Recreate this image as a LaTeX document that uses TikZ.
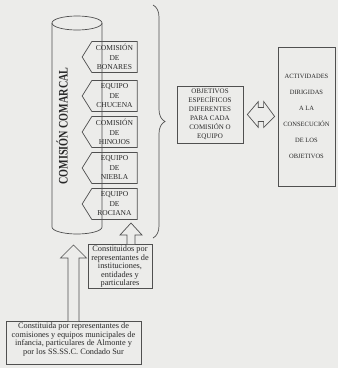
\documentclass[tikz,border=0pt]{standalone}
\usepackage{fontspec}
\setmainfont{Liberation Serif}
\usepackage{graphicx}
\usetikzlibrary{shapes.symbols,decorations.pathreplacing,calc}
\definecolor{paper}{RGB}{236,236,234}
\definecolor{ink}{RGB}{80,80,80}
\definecolor{txt}{RGB}{40,40,40}

\begin{document}
\begin{tikzpicture}[x=1pt, y=1pt, line width=0.7pt,
    every node/.style={text=txt, align=center},
    flag/.style={signal, signal to=west, draw=ink, minimum width=55pt, minimum height=31pt,
        inner sep=1pt, signal pointer angle=116, font=\fontsize{7.5}{9.5}\selectfont},
    box/.style={draw=ink, inner sep=1pt},
    hollow/.style={draw=ink, fill=paper}]
\fill[paper] (0,0) rectangle (338,-368);
\useasboundingbox (0,0) rectangle (338,-368);

% cylinder
\draw[ink] (77,-23) ellipse [x radius=25pt, y radius=7pt];
\draw[ink] (52,-23) -- (52,-227) arc[start angle=180, end angle=360, x radius=25pt, y radius=7pt] -- (102,-23);
\node[rotate=90] (comarcal) at (62,-126) {\fontsize{13}{13}\selectfont\bfseries\scalebox{0.78}[1]{COMISIÓN COMARCAL}};

\node[flag] (bonares) at (114.5,-57) {COMISIÓN\\DE\\BONARES};
\node[flag] (chucena) at (114.5,-96) {EQUIPO\\DE\\CHUCENA};
\node[flag] (hinojos) at (114.5,-132) {COMISIÓN\\DE\\HINOJOS};
\node[flag] (niebla) at (114.5,-168) {EQUIPO\\DE\\NIEBLA};
\node[flag] (rociana) at (114.5,-204) {EQUIPO\\DE\\ROCIANA};

\draw[ink, decorate, decoration={brace, amplitude=12pt}] (153,-5) -- (153,-238);

\node[box, minimum width=66pt, minimum height=57pt, font=\fontsize{7}{9}\selectfont] (objetivos) at (210,-114.5)
    {OBJETIVOS\\ESPECÍFICOS\\DIFERENTES\\PARA CADA\\COMISIÓN O\\EQUIPO};
\node[box, minimum width=57pt, minimum height=139pt, font=\fontsize{6.5}{16}\selectfont] (actividades) at (306.5,-116.5)
    {ACTIVIDADES\\DIRIGIDAS\\A LA\\CONSECUCIÓN\\DE LOS\\OBJETIVOS};

\draw[hollow] let \p1=($(objetivos.east)+(4,0)$), \p2=($(actividades.west)+(-3,0)$) in
    (\p1) -- (\x1+11pt,\y1+13pt) -- (\x1+11pt,\y1+7pt) -- (\x2-11pt,\y1+7pt) -- (\x2-11pt,\y1+13pt)
    -- (\p2) -- (\x2-11pt,\y1-13pt) -- (\x2-11pt,\y1-7pt) -- (\x1+11pt,\y1-7pt) -- (\x1+11pt,\y1-13pt) -- cycle;

\node[box, minimum width=64pt, minimum height=41pt, font=\fontsize{8.3}{8.5}\selectfont] (instituciones) at (120,-266.5)
    {Constituidos por\\representantes de\\instituciones,\\entidades y\\particulares};
\node[box, minimum width=135pt, font=\fontsize{8.3}{8.7}\selectfont] (almonte) at (73.5,-343)
    {Constituida por representantes de\\comisiones y equipos municipales de\\infancia, particulares de Almonte y\\por los SS.SS.C. Condado Sur\\~};

% hollow arrows
\coordinate (flagtip) at (131,-223);
\draw[hollow] let \p1=(flagtip), \p2=(instituciones.north) in
    (\p1) -- (\x1+11pt,\y1-12pt) -- (\x1+4pt,\y1-12pt) -- (\x1+4pt,\y2) -- (\x1-4pt,\y2)
    -- (\x1-4pt,\y1-12pt) -- (\x1-11pt,\y1-12pt) -- cycle;
\coordinate (cylbase) at (73.5,-245);
\draw[hollow] let \p1=(cylbase), \p2=(almonte.north) in
    (\p1) -- (\x1+13pt,\y1-13pt) -- (\x1+5.5pt,\y1-13pt) -- (\x1+5.5pt,\y2) -- (\x1-5.5pt,\y2)
    -- (\x1-5.5pt,\y1-13pt) -- (\x1-13pt,\y1-13pt) -- cycle;
\end{tikzpicture}
\end{document}
